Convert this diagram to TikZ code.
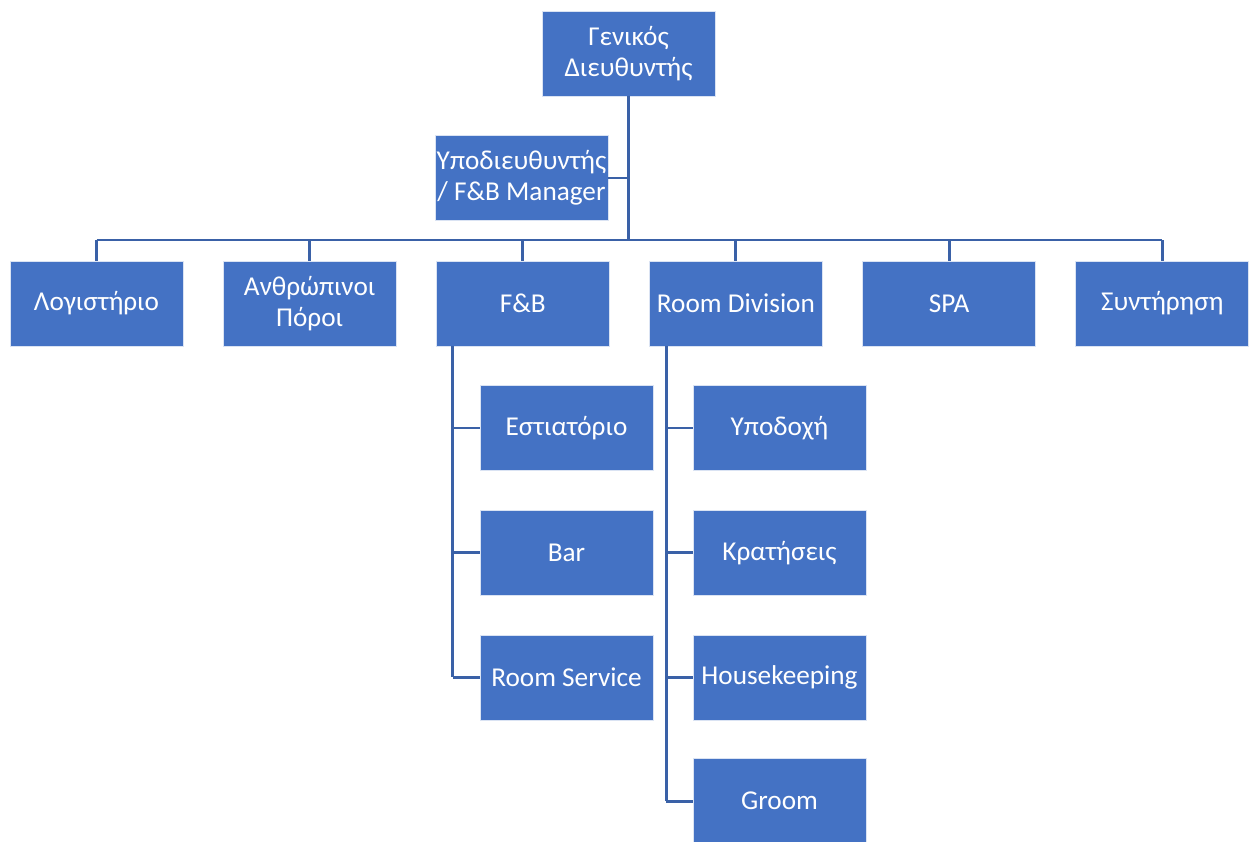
\documentclass[tikz,border=0pt]{standalone}
\usepackage{fontspec}
\setmainfont{Carlito}
\usepackage{xcolor}
\usetikzlibrary{positioning}
\definecolor{unitblue}{HTML}{4472C4}
\definecolor{linkblue}{HTML}{3A61A7}

\begin{document}
\begin{tikzpicture}[
    x=0.02cm, y=-0.02cm,
    node distance=0.79cm,
    unit/.style={draw=white!80!unitblue, line width=0.4pt, fill=unitblue, text=white, minimum width=3.46cm, minimum height=1.7cm, inner sep=0pt, align=center, font=\fontsize{15.5}{17.5}\selectfont},
    link/.style={draw=linkblue, line width=1.7pt}
]
\useasboundingbox (0,0) rectangle (1249,842);

% Top of the chart
\node[unit] (gm) at (628.5,53.5) {Γενικός\\Διευθυντής};
\node[unit] (dgm) at (521.5,178) {Υποδιευθυντής\\/ F\&B Manager};

% Departments
\node[unit] (acc) at (96.5,303.5) {Λογιστήριο};
\node[unit, right=of acc] (hr) {Ανθρώπινοι\\Πόροι};
\node[unit, right=of hr] (fb) {F\&B};
\node[unit, right=of fb] (rd) {Room Division};
\node[unit, right=of rd] (spa) {SPA};
\node[unit, right=of spa] (maint) {Συντήρηση};

% F&B sections
\node[unit] (rest) at (566.5,428) {Εστιατόριο};
\node[unit, below=0.78cm of rest] (bar) {Bar};
\node[unit, below=0.78cm of bar] (rs) {Room Service};

% Room Division sections
\node[unit] (rec) at (779.5,428) {Υποδοχή};
\node[unit, below=0.78cm of rec] (res) {Κρατήσεις};
\node[unit, below=0.78cm of res] (hk) {Housekeeping};
\node[unit, below=0.76cm of hk] (groom) {Groom};

% Connectors
\coordinate (bus) at (628.5,240);
\draw[link] (gm) -- (gm |- bus);
\draw[link] (dgm.east) -- (dgm.east -| gm);
\draw[link] (acc.north |- bus) -- (maint.north |- bus);
\foreach \d in {acc,hr,fb,rd,spa,maint}
    \draw[link] (\d.north |- bus) -- (\d.north);

\coordinate[xshift=0.34cm] (fbspine) at (fb.south west);
\draw[link] (fbspine) -- (fbspine |- rs.west);
\foreach \c in {rest,bar,rs}
    \draw[link] (fbspine |- \c.west) -- (\c.west);

\coordinate[xshift=0.34cm] (rdspine) at (rd.south west);
\draw[link] (rdspine) -- (rdspine |- groom.west);
\foreach \c in {rec,res,hk,groom}
    \draw[link] (rdspine |- \c.west) -- (\c.west);

\end{tikzpicture}
\end{document}
